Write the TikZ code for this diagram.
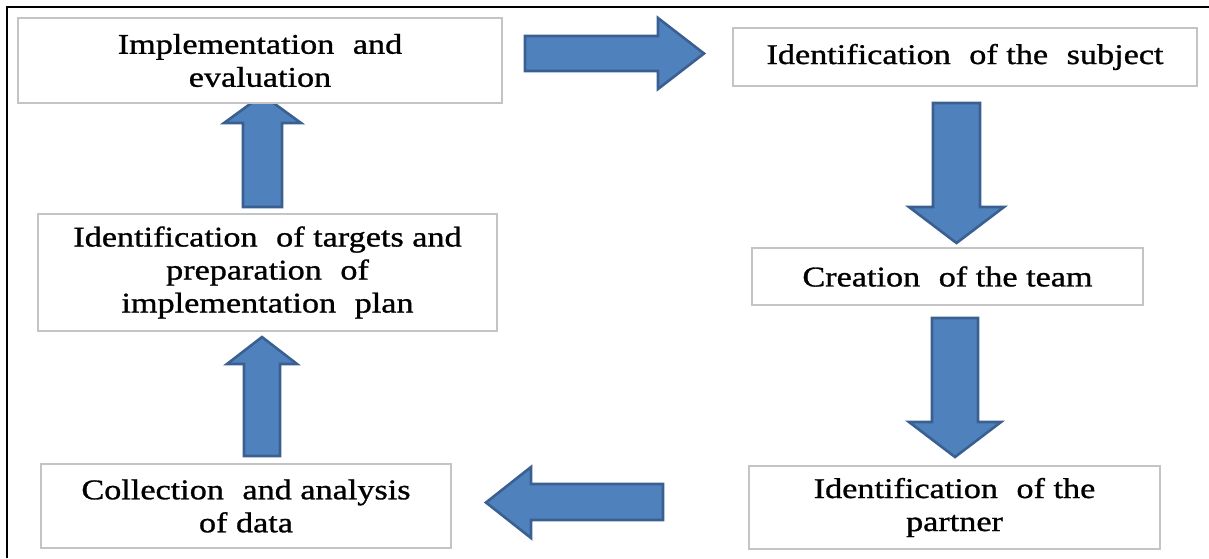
\documentclass[tikz,border=0pt]{standalone}
\usepackage{fontspec}
\setmainfont{Liberation Serif}[FakeStretch=1.2, FakeBold=1]
\newcommand\widegap{\hspace{0.65em}}
\begin{document}
\begin{tikzpicture}[x=1pt,y=-1pt,
  stepbox/.style={draw=boxgray, line width=1.8pt, fill=white, inner sep=0pt,
    align=center, font=\fontsize{28.5}{33}\selectfont},
  blockarrow/.style={draw=arrowline, fill=arrowfill, line width=2.6pt, line join=miter}]
\definecolor{boxgray}{HTML}{C4C4C4}
\definecolor{arrowfill}{HTML}{4F81BD}
\definecolor{arrowline}{HTML}{3A6091}
\useasboundingbox (0,0) rectangle (1209,558);

% block arrows (drawn first, boxes cover their tips)
\draw[blockarrow] (525,36) -- (658,36) -- (658,18) -- (704,53.5) -- (658,89) -- (658,71) -- (525,71) -- cycle;
\draw[blockarrow] (933,103) -- (980,103) -- (980,207) -- (1004,207) -- (956.5,243) -- (909,207) -- (933,207) -- cycle;
\draw[blockarrow] (932,318) -- (978,318) -- (978,422) -- (1001,422) -- (955,457) -- (909,422) -- (932,422) -- cycle;
\draw[blockarrow] (663,484) -- (531,484) -- (531,467) -- (486,502.5) -- (531,538) -- (531,520) -- (663,520) -- cycle;
\draw[blockarrow] (244,456) -- (244,364) -- (227,364) -- (262,337) -- (297,364) -- (280,364) -- (280,456) -- cycle;
\draw[blockarrow] (243,207) -- (243,123) -- (224,123) -- (262.5,95) -- (301,123) -- (282,123) -- (282,207) -- cycle;

% process steps
\node[stepbox, minimum width=484pt, minimum height=85pt] (impl) at (260,60.5)
  {Implementation\widegap and\\evaluation};
\node[stepbox, minimum width=464pt, minimum height=58pt] (subject) at (965,57)
  {Identification\widegap of the\widegap subject};
\node[stepbox, minimum width=391pt, minimum height=57pt] (team) at (947.5,276.5)
  {Creation\widegap of the team};
\node[stepbox, minimum width=411pt, minimum height=83pt] (partner) at (954.5,507.5)
  {Identification\widegap of the\\partner};
\node[stepbox, minimum width=410pt, minimum height=84pt] (data) at (246,506)
  {Collection\widegap and analysis\\of data};
\node[stepbox, minimum width=459pt, minimum height=117pt] (targets) at (267.5,272.5)
  {Identification\widegap of targets and\\preparation\widegap of\\implementation\widegap plan};

% outer frame (top and left edges)
\draw[line width=2.4pt] (7,558) -- (7,7) -- (1209,7);
\end{tikzpicture}
\end{document}
